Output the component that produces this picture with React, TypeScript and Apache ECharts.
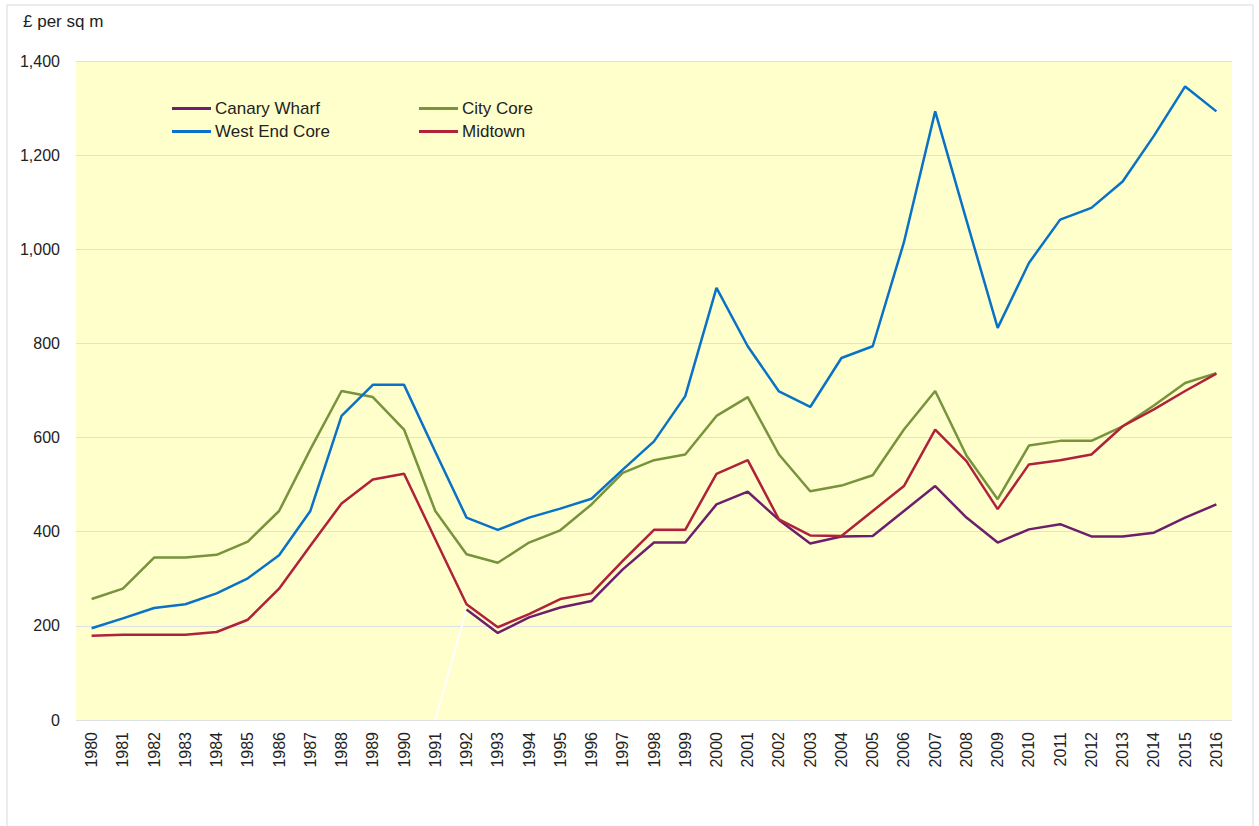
import React, { useEffect, useRef } from "react";
import * as echarts from "echarts";

const years = [
  "1980","1981","1982","1983","1984","1985","1986","1987","1988","1989",
  "1990","1991","1992","1993","1994","1995","1996","1997","1998","1999",
  "2000","2001","2002","2003","2004","2005","2006","2007","2008","2009",
  "2010","2011","2012","2013","2014","2015","2016",
];

const canaryWharf: (number | null)[] = [
  null, null, null, null, null, null, null, null, null, null,
  null, null, 235, 185, 218, 239, 253, 320, 377, 377,
  458, 485, 425, 375, 390, 391, 444, 497, 430, 377,
  405, 416, 390, 390, 398, 430, 458,
];

const cityCore = [
  257, 279, 345, 345, 351, 379, 444, 575, 699, 686,
  617, 444, 352, 334, 377, 403, 458, 525, 552, 564,
  646, 686, 564, 486, 498, 520, 617, 699, 562, 469,
  583, 593, 593, 624, 668, 716, 737,
];

const westEndCore = [
  195, 216, 238, 246, 269, 301, 350, 444, 646, 712,
  712, 570, 430, 404, 430, 449, 470, 532, 592, 688,
  918, 794, 698, 665, 769, 794, 1015, 1293, 1062, 833,
  971, 1063, 1088, 1144, 1241, 1346, 1293,
];

const midtown = [
  179, 181, 181, 181, 187, 213, 279, 370, 460, 511,
  523, 384, 246, 197, 225, 257, 269, 338, 404, 404,
  523, 552, 426, 392, 391, 444, 497, 617, 550, 448,
  543, 552, 564, 624, 660, 699, 736,
];

// white connector drawn in the original from 1991 (0) to the first Canary Wharf point
const canaryConnector: (number | null)[] = years.map((_, i) =>
  i === 11 ? 0 : i === 12 ? 235 : null
);

const colors = {
  canary: "#6E1F6B",
  city: "#77933C",
  west: "#0A72C6",
  mid: "#B0213A",
};

const FONT = "'Liberation Sans', Arial, sans-serif";

export default function App() {
  const ref = useRef<HTMLDivElement>(null);

  useEffect(() => {
    if (!ref.current) return;
    const chart = echarts.init(ref.current, undefined, { renderer: "svg" });
    const lineSeries = (name: string, data: (number | null)[], color: string, z: number) => ({
      name,
      type: "line",
      data,
      symbol: "none",
      showSymbol: false,
      connectNulls: false,
      lineStyle: { color, width: 2.5 },
      itemStyle: { color },
      z,
    });
    const legendCommon = {
      orient: "vertical",
      padding: 0,
      itemWidth: 39,
      itemHeight: 3,
      itemGap: 6,
      icon: "rect",
      textStyle: { fontFamily: FONT, fontSize: 17, color: "#222", padding: [0, 0, 0, -1] },
      selectedMode: false,
    };
    chart.setOption({
      animation: false,
      backgroundColor: "#ffffff",
      textStyle: { fontFamily: FONT },
      graphic: [
        {
          type: "rect",
          shape: { x: 7, y: 5, width: 1246, height: 840 },
          style: { fill: "none", stroke: "#D9D9D9", lineWidth: 1 },
          silent: true,
        },
        {
          type: "text",
          left: 23,
          top: 13,
          style: { text: "£ per sq m", fontFamily: FONT, fontSize: 17, fill: "#222" },
        },
      ],
      legend: [
        { ...legendCommon, left: 172, top: 100, data: ["Canary Wharf", "West End Core"] },
        { ...legendCommon, left: 419, top: 100, data: ["City Core", "Midtown"] },
      ],
      grid: {
        left: 76,
        top: 61,
        right: 27,
        bottom: 106,
        show: true,
        backgroundColor: "#FFFFCC",
        borderWidth: 0,
        containLabel: false,
      },
      xAxis: {
        type: "category",
        data: years,
        boundaryGap: true,
        axisLine: { show: false },
        axisTick: { show: false },
        axisLabel: {
          rotate: 90,
          interval: 0,
          margin: 12,
          fontFamily: FONT,
          fontSize: 16,
          color: "#222",
        },
      },
      yAxis: {
        type: "value",
        min: 0,
        max: 1400,
        interval: 200,
        axisLine: { show: false },
        axisTick: { show: false },
        axisLabel: {
          margin: 16,
          fontFamily: FONT,
          fontSize: 16,
          color: "#222",
          formatter: (v: number) => v.toLocaleString("en-US"),
        },
        splitLine: { show: true, lineStyle: { color: "#DFDFE6", width: 1 } },
      },
      series: [
        {
          name: "connector",
          type: "line",
          data: canaryConnector,
          symbol: "none",
          lineStyle: { color: "#FFFFFF", width: 2 },
          silent: true,
          z: 1,
        },
        lineSeries("Canary Wharf", canaryWharf, colors.canary, 2),
        lineSeries("City Core", cityCore, colors.city, 3),
        lineSeries("West End Core", westEndCore, colors.west, 4),
        lineSeries("Midtown", midtown, colors.mid, 5),
      ],
    });
    return () => chart.dispose();
  }, []);

  return (
    <div
      ref={ref}
      style={{ position: "fixed", left: 0, top: 0, width: 1259, height: 826 }}
    />
  );
}
